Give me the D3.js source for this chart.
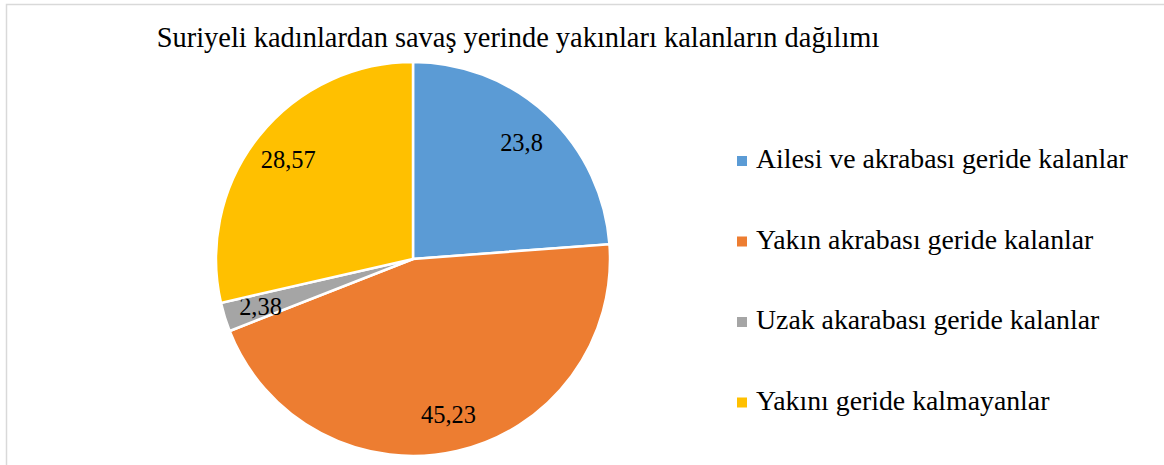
<!DOCTYPE html>
<html>
<head>
<meta charset="utf-8">
<script src="https://cdn.jsdelivr.net/npm/d3@7"></script>
<style>
  body { margin: 0; background: #fff; }
</style>
</head>
<body>
<svg></svg>
<script>
// Chart data
var categories = [
    "Ailesi ve akrabası geride kalanlar",
    "Yakın akrabası geride kalanlar",
    "Uzak akarabası geride kalanlar",
    "Yakını geride kalmayanlar"
]
var values = [23.8, 45.23, 2.38, 28.57]
var labels = ["23,8", "45,23", "2,38", "28,57"]
var colors = ["#5B9BD5", "#ED7D31", "#A5A5A5", "#FFC000"]
var title = "Suriyeli kadınlardan savaş yerinde yakınları kalanların dağılımı"

var width = 1164,
    height = 465
var serif = "'Liberation Serif', serif"

var svg = d3.select("svg")
    .attr("width", width)
    .attr("height", height)

// Scale a text's font size so that it spans the wanted width
function fitWidth(sel, target) {
    sel.each(function() {
        var fs = parseFloat(this.style.fontSize)
        var w = this.getComputedTextLength()
        d3.select(this).style("font-size", (fs * target / w) + "px")
    })
}

// Chart area border (only left/top edges are visible in the frame)
svg.append("rect")
    .attr("x", 6.5)
    .attr("y", 4.5)
    .attr("width", width + 20)
    .attr("height", height + 20)
    .style("fill", "white")
    .style("stroke", "#d9d9d9")
    .style("stroke-width", "1.5px")

// Title
svg.append("text")
    .attr("x", 518)
    .attr("y", 47)
    .attr("text-anchor", "middle")
    .style("font-family", serif)
    .style("font-size", "22px")
    .style("fill", "#000")
    .text(title)
    .call(fitWidth, 723)

// Pie
var cx = 413, cy = 259, radius = 197

var pie = d3.pie().sort(null)
var arc = d3.arc().innerRadius(0).outerRadius(radius)
var labelArc = d3.arc().innerRadius(radius * 0.81).outerRadius(radius * 0.81)

var g = svg.append("g")
    .attr("transform", "translate(" + cx + "," + cy + ")")

var slices = g.selectAll("g.slice")
    .data(pie(values))
    .enter().append("g")
    .attr("class", "slice")

slices.append("path")
    .attr("d", arc)
    .style("fill", function(d, i) { return colors[i] })
    .style("stroke", "white")
    .style("stroke-width", "2.5px")

var labelSize = svg.append("text")
    .style("font-family", serif)
    .style("font-size", "20px")
    .text(labels[1])
    .call(fitWidth, 55)
var lfs = labelSize.style("font-size")
labelSize.remove()

slices.append("text")
    .attr("transform", function(d) { return "translate(" + labelArc.centroid(d) + ")" })
    .attr("dy", "0.35em")
    .attr("text-anchor", "middle")
    .style("font-family", serif)
    .style("font-size", lfs)
    .style("fill", "#000")
    .text(function(d, i) { return labels[i] })

// Legend
var legend = svg.append("g")
    .attr("transform", "translate(737,161)")
    .selectAll("g")
    .data(categories)
    .enter().append("g")
    .attr("transform", function(d, i) { return "translate(0," + (i * 80.5) + ")" })

legend.append("rect")
    .attr("x", 0)
    .attr("y", -5)
    .attr("width", 10)
    .attr("height", 10)
    .style("fill", function(d, i) { return colors[i] })

var legendText = legend.append("text")
    .attr("x", 19)
    .attr("y", 7)
    .style("font-family", serif)
    .style("font-size", "22px")
    .style("fill", "#000")
    .text(function(d) { return d })

// all legend entries share the size that makes the first one 372px wide
legendText.filter(function(d, i) { return i === 0 }).call(fitWidth, 372)
legendText.style("font-size", legendText.filter(function(d, i) { return i === 0 }).style("font-size"))
</script>
</body>
</html>
